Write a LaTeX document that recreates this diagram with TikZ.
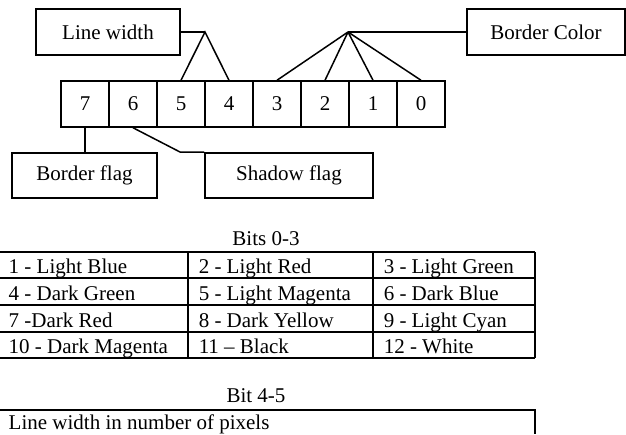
\documentclass[tikz,border=0pt]{standalone}
\usepackage{fontspec}
\setmainfont{Liberation Serif}
\begin{document}
\begin{tikzpicture}[x=1pt, y=-1pt, line width=1.5pt, font=\fontsize{21}{25}\selectfont,
    box/.style={draw, rectangle, minimum height=46pt, inner sep=0},
    bitcell/.style={draw, rectangle, minimum width=48pt, minimum height=46pt, inner sep=0},
    cell/.style={anchor=base west, inner sep=0}]
        \useasboundingbox (0,0) rectangle (626,434);
        % bit register
        \foreach \b [count=\i from 0] in {7,6,5,4,3,2,1,0}
            \node[bitcell] (b\b) at (85+48*\i,104) {\b};
        % labels
        \node[box, minimum width=144pt] (lw) at (108,32) {Line width};
        \node[box, minimum width=158pt] (bc) at (546,32) {Border Color};
        \node[box, minimum width=145pt, minimum height=45pt] (bf) at (84.5,175.5) {Border flag};
        \node[box, minimum width=168pt, minimum height=45pt] (sf) at (289,175.5) {Shadow flag};
        \coordinate (lwtop) at (205,32);
        \coordinate (bctop) at (348,32);
        \coordinate (sfbend) at (180,152);
        \draw (lw.east) -- (lwtop);
        \draw (b5.north) -- (lwtop) -- (b4.north);
        \draw (bc.west) -- (bctop);
        \foreach \b in {3,2,1,0}
            \draw (bctop) -- (b\b.north);
        \draw (b7.south) -- (b7.south |- bf.north);
        \draw (b6.south) -- (sfbend) -- (sf.north west);
        % bits 0-3 table
        \node[anchor=base] (cap1) at (266,245) {Bits 0-3};
        \foreach \y in {252,278,305,332,358}
            \draw (0,\y) -- (535,\y);
        \foreach \x in {188,373,535}
            \draw (\x,252) -- (\x,358);
        \node[cell] (c1) at (8,273) {1 - Light Blue};
        \node[cell] (c2) at (198,273) {2 - Light Red};
        \node[cell] (c3) at (383,273) {3 - Light Green};
        \node[cell] (c4) at (8,300) {4 - Dark Green};
        \node[cell] (c5) at (198,300) {5 - Light Magenta};
        \node[cell] (c6) at (383,300) {6 - Dark Blue};
        \node[cell] (c7) at (8,327) {7 -Dark Red};
        \node[cell] (c8) at (198,327) {8 - Dark Yellow};
        \node[cell] (c9) at (383,327) {9 - Light Cyan};
        \node[cell] (c10) at (8,353) {10 - Dark Magenta};
        \node[cell] (c11) at (198,353) {11 -- Black};
        \node[cell] (c12) at (383,353) {12 - White};
        % bit 4-5 table
        \node[anchor=base] (cap2) at (256,402) {Bit 4-5};
        \draw (0,410) -- (535,410) -- (535,434);
        \node[cell] (lwrow) at (8,429) {Line width in number of pixels};
\end{tikzpicture}
\end{document}
